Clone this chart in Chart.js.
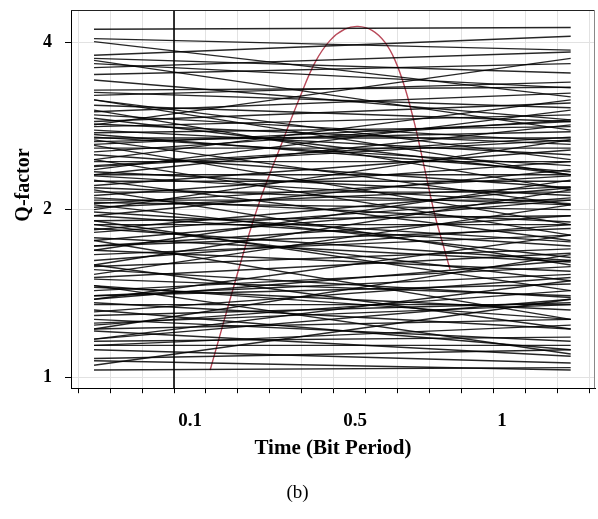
<!DOCTYPE html>
<html>
<head>
<meta charset="utf-8">
<title>Q-factor</title>
<script src="https://cdn.jsdelivr.net/npm/chart.js@4.4.1/dist/chart.umd.min.js"></script>
<style>
  html, body { margin: 0; padding: 0; background: #fff; }
  #wrap { width: 598px; height: 519px; }
</style>
</head>
<body>
<div id="wrap"><canvas id="qChart" width="598" height="519"></canvas></div>
<script>
// time positions (grid steps) where every trace starts and ends
const trace_t = [0.5, 15.4];

// Q-factor of each trace at its start and at its end
const trace_start_q = [
  4.22, 4.06, 4.01, 3.79, 3.74, 3.60, 3.50, 3.28, 3.25, 3.21,
  3.08, 3.00, 2.96, 2.88, 2.82, 2.78, 2.75, 2.73, 2.65, 2.58,
  2.54, 2.51, 2.44, 2.39, 2.34, 2.25, 2.21, 2.19, 2.15, 2.12,
  2.10, 2.06, 2.02, 1.98, 1.91, 1.82, 1.78, 1.72, 1.69, 1.66,
  1.58, 1.56, 1.51, 1.45, 1.43, 1.40, 1.36, 1.31, 1.29, 1.27,
  1.22, 1.21, 1.16, 1.12, 1.08, 1.07, 1.03, 3.15, 2.46, 2.67,
  1.95, 2.26, 1.76, 1.88, 1.62, 1.46, 1.38, 1.24, 1.17, 1.59,
  2.92, 2.31, 2.04, 1.84, 3.42, 3.66, 1.32, 1.14, 2.70, 2.40,
  2.05, 2.30, 1.72, 1.95, 1.50, 1.40, 2.85, 2.62, 1.85, 1.25,
  3.15, 2.00, 2.61, 1.69, 2.17, 1.53, 1.76, 1.22, 1.46, 1.05,
  3.71, 2.84, 2.36, 3.02, 1.91, 1.38, 2.46, 1.59, 1.17, 2.08,
  1.88, 1.35, 1.14, 2.31, 2.69
];
const trace_end_q = [
  4.25, 3.87, 3.19, 4.10, 3.52, 3.84, 3.66, 3.32, 3.05, 3.39,
  2.88, 3.24, 2.65, 3.11, 2.96, 2.51, 2.82, 2.34, 2.76, 2.58,
  2.90, 2.19, 2.44, 2.67, 2.12, 2.25, 2.56, 2.04, 2.15, 2.44,
  1.90, 2.00, 2.20, 1.75, 1.95, 2.10, 1.61, 1.85, 1.55, 1.80,
  1.70, 1.39, 1.67, 1.32, 1.58, 1.47, 1.22, 1.51, 1.36, 1.16,
  1.27, 1.09, 1.18, 1.06, 1.12, 1.03, 1.04, 2.46, 3.15, 2.04,
  2.36, 1.76, 2.08, 1.49, 1.88, 1.27, 1.62, 1.43, 1.38, 1.22,
  2.31, 2.84, 1.64, 2.19, 2.90, 3.31, 1.12, 1.24, 2.40, 2.70,
  2.30, 2.05, 1.95, 1.72, 1.40, 1.53, 2.62, 2.88, 1.62, 1.35,
  2.31, 2.67, 1.88, 2.26, 1.59, 2.04, 1.27, 1.66, 1.10, 1.38,
  2.78, 3.74, 3.02, 2.17, 1.43, 1.80, 1.80, 2.17, 1.49, 2.08,
  1.88, 1.35, 1.14, 2.31, 2.69
];

// Q-factor curve
const curve_t = [4.13, 5.22, 5.69, 6.31, 6.94, 7.41, 7.88, 8.34, 8.75,
                 9.19, 9.59, 9.91, 10.22, 10.53, 10.84, 11.16, 11.41, 11.63];
const curve_q = [1.03, 1.71, 2.08, 2.58, 3.19, 3.68, 4.03, 4.22, 4.27,
                 4.20, 4.00, 3.71, 3.31, 2.84, 2.36, 1.95, 1.73, 1.56];

// sampling instant marker
const marker_t = 3;

// axis labels
const time_labels = ['0.1', '0.5', '1'];
const time_label_t = [3.5, 8.66, 13.25];
const q_labels = ['1', '2', '4'];

const t_min = -0.22, t_max = 16.16;
const q_min = 0.955, q_max = 4.57;

const serif = "'Liberation Serif', 'Times New Roman', serif";

let datasets = [];
trace_start_q.forEach((q0, i) => {
  datasets.push({
    data: [{x: trace_t[0], y: q0}, {x: trace_t[1], y: trace_end_q[i]}],
    borderColor: 'rgba(0,0,0,0.85)',
    borderWidth: 1.4,
    pointRadius: 0,
    tension: 0
  });
});

datasets.push({
  data: curve_t.map((t, i) => ({x: t, y: curve_q[i]})),
  borderColor: '#b94a5a',
  borderWidth: 1.4,
  pointRadius: 0,
  tension: 0.4
});

datasets.push({
  data: [{x: marker_t, y: q_min}, {x: marker_t, y: q_max}],
  borderColor: '#000',
  borderWidth: 1.6,
  pointRadius: 0
});

// top and right edges of the plot box, plus the vertical axis name
const frame = {
  id: 'frame',
  afterDraw(chart) {
    const {ctx, chartArea: a} = chart;
    ctx.save();
    ctx.strokeStyle = '#222';
    ctx.lineWidth = 1;
    ctx.beginPath();
    ctx.moveTo(a.left, a.top + 0.5);
    ctx.lineTo(a.right, a.top + 0.5);
    ctx.stroke();
    ctx.strokeStyle = '#888';
    ctx.beginPath();
    ctx.moveTo(a.right - 0.5, a.top);
    ctx.lineTo(a.right - 0.5, a.bottom);
    ctx.stroke();

    ctx.translate(24, a.top + 175);
    ctx.rotate(-Math.PI / 2);
    ctx.fillStyle = '#000';
    ctx.font = 'bold 20px ' + serif;
    ctx.textAlign = 'center';
    ctx.textBaseline = 'middle';
    ctx.fillText('Q-factor', 0, 0);
    ctx.restore();
  }
};

new Chart(document.getElementById('qChart'), {
  type: 'line',
  data: {datasets: datasets},
  plugins: [frame],
  options: {
    responsive: false,
    animation: false,
    events: [],
    layout: {padding: {left: 0, right: 3, top: 10, bottom: 0}},
    plugins: {
      legend: {display: false},
      tooltip: {enabled: false},
      title: {
        display: true,
        position: 'bottom',
        text: '(b)',
        color: '#000',
        font: {family: serif, size: 19, weight: 'normal', lineHeight: 1.2},
        padding: {top: 23, bottom: 15}
      }
    },
    scales: {
      x: {
        type: 'linear',
        position: 'bottom',
        weight: 0,
        min: t_min,
        max: t_max,
        afterBuildTicks: axis => {
          let ticks = [];
          for (let k = 0; k <= 16; k++) ticks.push({value: k});
          axis.ticks = ticks;
        },
        afterFit: scale => { scale.height = 8; },
        ticks: {display: false},
        grid: {color: '#e2e2e2', lineWidth: 1, tickLength: 5, tickColor: '#000'},
        border: {color: '#000', width: 1}
      },
      xl: {
        type: 'linear',
        position: 'bottom',
        weight: 1,
        min: t_min,
        max: t_max,
        afterBuildTicks: axis => {
          axis.ticks = time_label_t.map(v => ({value: v}));
        },
        afterFit: scale => { scale.height = 62; },
        ticks: {
          autoSkip: false,
          maxRotation: 0,
          padding: 13,
          color: '#000',
          font: {family: serif, size: 19, weight: 'bold'},
          callback: (v, i) => time_labels[i]
        },
        grid: {display: false, drawTicks: false},
        border: {display: false},
        title: {
          display: true,
          text: 'Time (Bit Period)',
          color: '#000',
          font: {family: serif, size: 21, weight: 'bold', lineHeight: 1.2},
          padding: {top: 0, bottom: -3}
        }
      },
      y: {
        type: 'logarithmic',
        position: 'left',
        min: q_min,
        max: q_max,
        afterBuildTicks: axis => {
          let ticks = [];
          for (let k = 0; k <= 21; k++) ticks.push({value: Math.pow(2, k / 10)});
          axis.ticks = ticks;
        },
        afterFit: scale => {
          scale.width = 71;
          scale.paddingTop = 0;
          scale.paddingBottom = 0;
        },
        ticks: {
          autoSkip: false,
          padding: 13,
          color: '#000',
          font: {family: serif, size: 18, weight: 'bold'},
          callback: (v, i) => (i % 10 === 0 ? q_labels[i / 10] : null)
        },
        grid: {color: '#e2e2e2', lineWidth: 1, tickLength: 6, tickColor: '#000'},
        border: {color: '#000', width: 1}
      }
    }
  }
});
</script>
</body>
</html>
